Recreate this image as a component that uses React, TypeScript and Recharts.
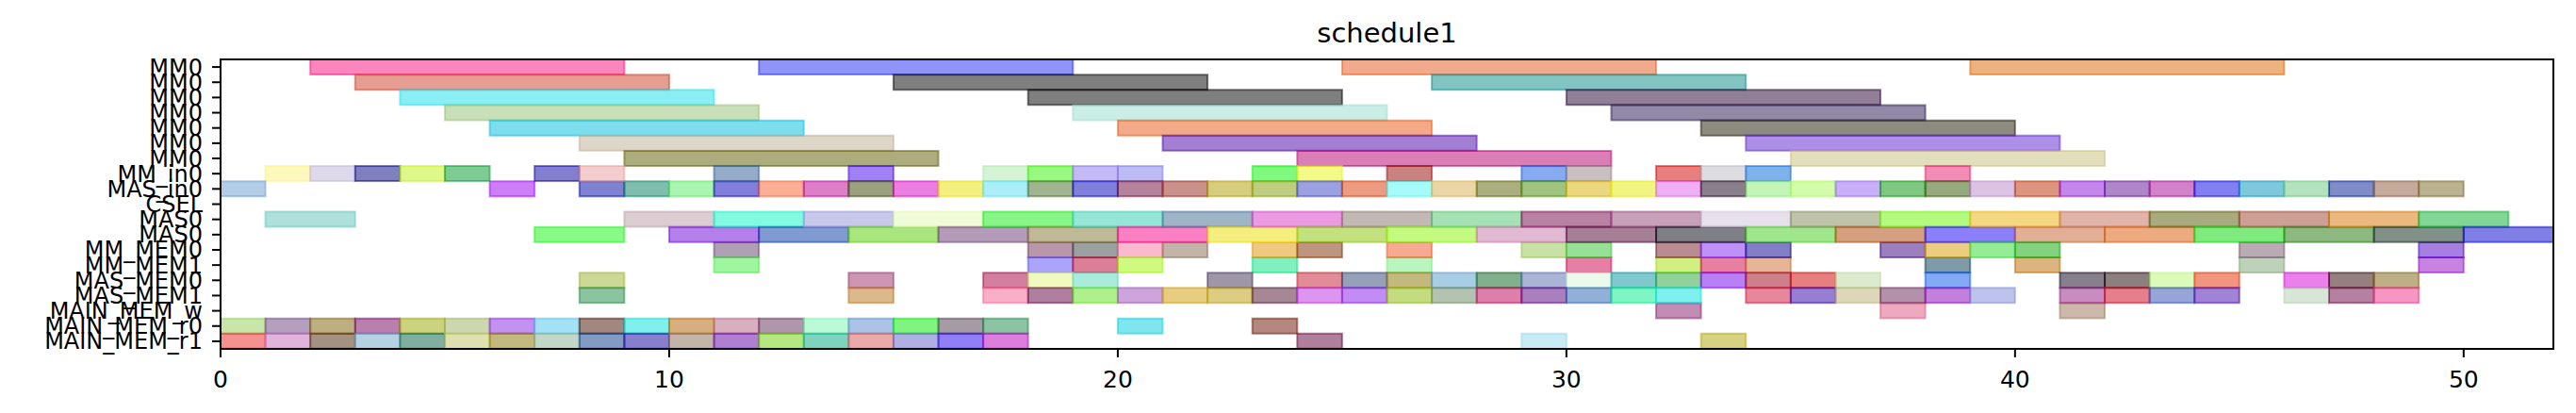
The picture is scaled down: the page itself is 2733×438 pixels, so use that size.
import React from 'react';
import { BarChart, Bar, XAxis, YAxis, Cell } from 'recharts';

// row names, top to bottom
const rowLabels = [
  'MM0', 'MM0', 'MM0', 'MM0', 'MM0', 'MM0', 'MM0',
  'MM_in0', 'MAS_in0', 'CSEL', 'MAS0', 'MAS0',
  'MM_MEM0', 'MM_MEM1', 'MAS_MEM0', 'MAS_MEM1',
  'MAIN_MEM_w', 'MAIN_MEM_r0', 'MAIN_MEM_r1',
];

// every task in a row lasts the same time
const rowDurations = [7, 7, 7, 7, 7, 7, 7, 1, 1, 1, 2, 2, 1, 1, 1, 1, 1, 1, 1];

// task start times per row
const mm0Starts = [
  [2, 12, 25, 39],
  [3, 15, 27],
  [4, 18, 30],
  [5, 19, 31],
  [6, 20, 33],
  [8, 21, 34],
  [9, 24, 35],
];
const mmIn0Starts = [1, 2, 3, 4, 5, 7, 8, 11, 14, 17, 18, 19, 20, 23, 24, 26, 29, 30, 32, 33, 34, 38];
const masIn0Starts = [
  0, 6, 8, 9, 10, 11, 12, 13, 14, 15, 16, 17, 18, 19, 20, 21, 22, 23, 24, 25, 26, 27,
  28, 29, 30, 31, 32, 33, 34, 35, 36, 37, 38, 39, 40, 41, 42, 43, 44, 45, 46, 47, 48, 49,
];
const cselStarts: number[] = [];
const mas0aStarts = [1, 9, 11, 13, 15, 17, 19, 21, 23, 25, 27, 29, 31, 33, 35, 37, 39, 41, 43, 45, 47, 49];
const mas0bStarts = [7, 10, 12, 14, 16, 18, 20, 22, 24, 26, 28, 30, 32, 34, 36, 38, 40, 42, 44, 46, 48, 50];
const mmMem0Starts = [11, 18, 19, 20, 21, 23, 24, 26, 29, 30, 32, 33, 34, 37, 38, 39, 40, 45, 49];
const mmMem1Starts = [11, 18, 19, 20, 23, 26, 30, 32, 33, 34, 38, 40, 45, 49];
const masMem0Starts = [
  8, 14, 17, 18, 19, 22, 24, 25, 26, 27, 28, 29, 30, 31, 32, 33, 34, 35, 36, 38,
  41, 42, 43, 44, 46, 47, 48,
];
const masMem1Starts = [
  8, 14, 17, 18, 19, 20, 21, 22, 23, 24, 25, 26, 27, 28, 29, 30, 31, 32,
  34, 35, 36, 37, 38, 39, 41, 42, 43, 44, 46, 47, 48,
];
const mainMemWStarts = [32, 37, 41];
const mainMemR0Starts = [0, 1, 2, 3, 4, 5, 6, 7, 8, 9, 10, 11, 12, 13, 14, 15, 16, 17, 20, 23];
const mainMemR1Starts = [0, 1, 2, 3, 4, 5, 6, 7, 8, 9, 10, 11, 12, 13, 14, 15, 16, 17, 24, 29, 33];

// colours as they look on white (half transparent)
const mm0Colors = [
  ['#fb86bd', '#8f94f8', '#f2aa8c', '#ecb26c'],
  ['#e59e91', '#7d746a', '#82c4c1'],
  ['#8ceef5', '#747973', '#906e96'],
  ['#c9dfb8', '#caede6', '#9189a6'],
  ['#78deee', '#f2aa88', '#8d8a63'],
  ['#ded6c8', '#a37cd3', '#ae8fe6'],
  ['#adac70', '#da6eb6', '#e3dfbc'],
];
const mmIn0Colors = [
  '#fff8be', '#dedaeb', '#7870be', '#def88a', '#74cb94', '#836acf', '#f3cdcd', '#94acc8',
  '#a080f5', '#d5f3d5', '#98f880', '#c4baf5', '#bcbcf2', '#75fa75', '#f3fa87', '#c8827d',
  '#87aaf0', '#c8c0c0', '#e87d78', '#dcdce1', '#78b2eb', '#f28cb4',
];
const masIn0Colors = [
  '#b4cde6', '#cd6efa', '#6982d2', '#6ebeaf', '#aaf5af', '#826edc', '#faaf96', '#dc6ec8',
  '#9ba07d', '#eb73e1', '#f3f05f', '#aaeefa', '#a0b491', '#737ddc', '#b4829b', '#c8918c',
  '#d7cd73', '#becd7d', '#9ba0e1', '#eb9b78', '#a5fafa', '#ebd7a5', '#aaaf6e', '#a0c369',
  '#ebd764', '#f0f582', '#f0aff5', '#8c6e8c', '#c3f5b9', '#d2fcaa', '#c8affa', '#69c882',
  '#96aa73', '#dcc3e6', '#dc9678', '#c387eb', '#af87c8', '#d282c8', '#8273f0', '#6ec8dc',
  '#b4e1be', '#6e8cc8', '#c3aa9b', '#bbb291',
];
const cselColors: string[] = [];
const mas0aColors = [
  '#afe1dc', '#dccdd2', '#82fae1', '#c8c8eb', '#f0fcd7', '#87f587', '#96e6d7', '#a0b4c8',
  '#eb9be1', '#c3b9b4', '#a5e1b4', '#b982a5', '#c8a0b9', '#e8e1eb', '#bec3aa', '#b4fa55',
  '#f5d782', '#e1b4aa', '#aaaa5f', '#cda096', '#ebb978', '#82d796',
];
const mas0bColors = [
  '#87fa87', '#b473eb', '#6e9bd2', '#aae673', '#b49bb9', '#beb996', '#fa6ec3', '#f5ee6e',
  '#c3e178', '#c3fa6e', '#e1b9d2', '#a57d96', '#7c7e86', '#a0e68c', '#d4a07d', '#8c69fa',
  '#e1af96', '#ebaa6e', '#64eb78', '#8cb97d', '#829187', '#7d7de6',
];
const mmMem0Colors = [
  '#afa0b4', '#b996aa', '#9ba0a0', '#fab9cd', '#c3b4aa', '#f0c86e', '#be966e', '#f5aa91',
  '#c8e1a5', '#96e196', '#b98c91', '#be91f8', '#8278c8', '#9b73be', '#ebcd7d', '#96eb96',
  '#82d264', '#b9aab4', '#a57de1',
];
const mmMem1Colors = [
  '#a0f5a0', '#aaa5fa', '#dc7896', '#cdfa64', '#73f0be', '#b9f5be', '#e66ea5', '#d2f082',
  '#e673a0', '#e6b496', '#7d9baa', '#dcb464', '#bed2b9', '#c882e1',
];
const masMem0Colors = [
  '#cdd796', '#cd96b4', '#d278a0', '#f0fabe', '#aaebdc', '#a096aa', '#e18c96', '#96a0b9',
  '#c3b97d', '#aacde6', '#82af8c', '#aab4d7', '#ebfaeb', '#6ec8cd', '#91d29b', '#b964f5',
  '#cd648c', '#e66e69', '#dcebcd', '#82aaf5', '#87738c', '#8c6e69', '#dcfab9', '#f09673',
  '#eb69eb', '#96736e', '#beaf87',
];
const masMem1Colors = [
  '#8cc3a0', '#dcb98c', '#faafc8', '#af78a0', '#aff08c', '#cda5dc', '#e6cd6e', '#dccd82',
  '#a58796', '#dc96f0', '#c38cf5', '#c3dc69', '#b4c3af', '#dc69aa', '#aa6ebe', '#91afd7',
  '#78f5c3', '#64f0f0', '#e6879b', '#967dd2', '#dcd7b9', '#b491aa', '#c36edc', '#bec3eb',
  '#c88cbe', '#e6698c', '#96a5d7', '#a082d7', '#d7e6d7', '#b482a0', '#f596c3',
];
const mainMemWColors = ['#c38cb4', '#ebaabe', '#cdb9aa'];
const mainMemR0Colors = [
  '#c8e6aa', '#b4a0be', '#beaf82', '#b96eaf', '#cdd269', '#cdd7af', '#c391f0', '#a5e1f5',
  '#a0876e', '#7df0eb', '#d7af6e', '#d7afbe', '#af96aa', '#b9fad7', '#aac3e6', '#7df578',
  '#a59ba5', '#8cc3a5', '#64e6f0', '#b48778',
];
const mainMemR1Colors = [
  '#f59191', '#e1b4dc', '#a59178', '#b4d2e1', '#7dafa0', '#dee1af', '#c3b96e', '#c3d7c8',
  '#829bc3', '#8769cd', '#c3b4aa', '#af69d2', '#b4e682', '#64d2be', '#ebaaaa', '#afafe1',
  '#9178f5', '#dc73dc', '#af7d9b', '#c8ebf5', '#d7d282',
];

const rowStarts = [
  ...mm0Starts, mmIn0Starts, masIn0Starts, cselStarts, mas0aStarts, mas0bStarts,
  mmMem0Starts, mmMem1Starts, masMem0Starts, masMem1Starts,
  mainMemWStarts, mainMemR0Starts, mainMemR1Starts,
];
const rowColors = [
  ...mm0Colors, mmIn0Colors, masIn0Colors, cselColors, mas0aColors, mas0bColors,
  mmMem0Colors, mmMem1Colors, masMem0Colors, masMem1Colors,
  mainMemWColors, mainMemR0Colors, mainMemR1Colors,
];

const xTicks = [0, 10, 20, 30, 40, 50];

// undo the 50% blend with white so the bar can be drawn at alpha 0.5
function baseColor(hex: string) {
  const n = parseInt(hex.slice(1), 16);
  const ch = [(n >> 16) & 255, (n >> 8) & 255, n & 255].map(c => Math.max(0, Math.min(255, 2 * c - 255)));
  return `rgb(${ch[0]},${ch[1]},${ch[2]})`;
}

const maxSegs = Math.max(...rowStarts.map(s => s.length));

// stacked gantt: gap, task, gap, task ...
const data = rowStarts.map((starts, i) => {
  const entry: Record<string, number | string> = { id: String(i) };
  let cursor = 0;
  for (let k = 0; k < maxSegs; k++) {
    if (k < starts.length) {
      entry[`g${k}`] = starts[k] - cursor;
      entry[`v${k}`] = rowDurations[i];
      cursor = starts[k] + rowDurations[i];
    } else {
      entry[`g${k}`] = 0;
      entry[`v${k}`] = 0;
    }
  }
  return entry;
});

const axisStyle = { stroke: '#000', strokeWidth: 2 };

export default function App() {
  return (
    <div style={{ position: 'absolute', left: 0, top: 0, width: 2733, height: 438, background: '#fff', fontFamily: 'DejaVu Sans, sans-serif' }}>
      <div
        style={{
          position: 'absolute',
          left: 234,
          width: 2475,
          top: 21,
          fontSize: 29,
          lineHeight: '29px',
          textAlign: 'center',
          color: '#000',
        }}
      >
        schedule1
      </div>
      <BarChart
        width={2733}
        height={438}
        data={data}
        layout="vertical"
        barCategoryGap={0}
        margin={{ top: 63, right: 24, bottom: 28, left: 54 }}
      >
        <XAxis
          type="number"
          domain={[0, 52]}
          ticks={xTicks}
          allowDataOverflow
          height={40}
          tickSize={9}
          tickMargin={14}
          tick={{ fontSize: 25, fill: '#000' }}
          axisLine={axisStyle}
          tickLine={axisStyle}
        />
        <YAxis
          type="category"
          dataKey="id"
          width={180}
          interval={0}
          tickFormatter={(v: string) => rowLabels[Number(v)]}
          tickSize={9}
          tickMargin={10}
          tick={{ fontSize: 24, fill: '#000' }}
          axisLine={axisStyle}
          tickLine={axisStyle}
        />
        {Array.from({ length: maxSegs }).flatMap((_, k) => [
          <Bar key={`g${k}`} dataKey={`g${k}`} stackId="t" fill="none" isAnimationActive={false} />,
          <Bar
            key={`v${k}`}
            dataKey={`v${k}`}
            stackId="t"
            fillOpacity={0.5}
            strokeOpacity={0.5}
            strokeWidth={2}
            isAnimationActive={false}
          >
            {rowColors.map((cols, i) => {
              const c = cols[k] ? baseColor(cols[k]) : 'none';
              return <Cell key={i} fill={c} stroke={c} />;
            })}
          </Bar>,
        ])}
      </BarChart>
      {/* axes frame (top and right spines) */}
      <div
        style={{
          position: 'absolute',
          left: 233,
          top: 62,
          width: 2477,
          height: 309,
          boxSizing: 'border-box',
          border: '2px solid #000',
          pointerEvents: 'none',
        }}
      />
    </div>
  );
}
